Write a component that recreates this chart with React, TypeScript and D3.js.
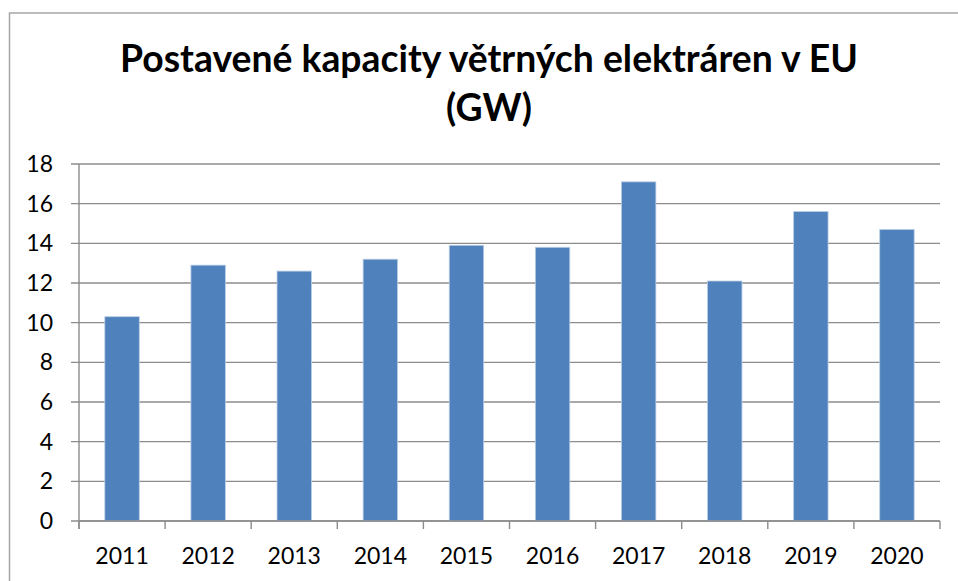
import * as d3 from "d3";

// hodnoty (GW)
const years = ["2011", "2012", "2013", "2014", "2015", "2016", "2017", "2018", "2019", "2020"];
const capacity = [10.3, 12.9, 12.6, 13.2, 13.9, 13.8, 17.1, 12.1, 15.6, 14.7];
const yTicks = [0, 2, 4, 6, 8, 10, 12, 14, 16, 18];
const titleLines = ["Postavené kapacity větrných elektráren v EU", "(GW)"];

const W = 958;
const H = 581;
const FONT = "Lato, 'Open Sans', sans-serif";

export default function App() {
  const margin = { top: 164, right: 18, bottom: 60, left: 79 };
  const x0 = margin.left;
  const x1 = W - margin.right;
  const yBase = H - margin.bottom;

  const x = d3.scaleBand().domain(years).range([x0, x1]).paddingInner(0.6).paddingOuter(0.3);
  const y = d3.scaleLinear().domain([0, 18]).range([yBase, margin.top]);
  const step = x.step();
  const grid = "#8c8c8c";

  return (
    <svg width={W} height={H} style={{ position: "absolute", left: 0, top: 0, display: "block" }}>
      <rect width={W} height={H} fill="white" />
      {/* rámeček grafu */}
      <path d={`M9.5,${H} V13 H${W}`} fill="none" stroke="#a6a6a6" strokeWidth={1.5} />

      {titleLines.map((t, i) => (
        <text key={t} x={489} y={72 + i * 49} textAnchor="middle" fontFamily={FONT}
          fontWeight="bold" fontSize={37.3} fill="#000">
          {t}
        </text>
      ))}

      {/* mřížka */}
      {yTicks.map((t) => (
        <g key={t}>
          <line x1={x0 - 8} x2={x1} y1={y(t)} y2={y(t)} stroke={grid} strokeWidth={1.4} />
          <text x={53} y={y(t)} dy="0.35em" textAnchor="end" fontFamily={FONT} fontSize={23} fill="#000">
            {t}
          </text>
        </g>
      ))}

      {/* sloupce */}
      {years.map((yr, i) => (
        <rect key={yr} x={x(yr)} y={y(capacity[i])} width={x.bandwidth()} height={yBase - y(capacity[i])}
          fill="#4f81bd" stroke="#b9cde5" strokeWidth={0.8} />
      ))}

      {/* osy */}
      <line x1={x0} x2={x0} y1={y(18)} y2={yBase + 8} stroke={grid} strokeWidth={1.4} />
      <line x1={x0} x2={x1} y1={yBase} y2={yBase} stroke={grid} strokeWidth={1.4} />
      {d3.range(years.length + 1).map((i) => (
        <line key={i} x1={x0 + i * step} x2={x0 + i * step} y1={yBase} y2={yBase + 8} stroke={grid} strokeWidth={1.4} />
      ))}
      {years.map((yr) => (
        <text key={yr} x={(x(yr) ?? 0) + x.bandwidth() / 2} y={564} textAnchor="middle"
          fontFamily={FONT} fontSize={23} fill="#000">
          {yr}
        </text>
      ))}
    </svg>
  );
}
